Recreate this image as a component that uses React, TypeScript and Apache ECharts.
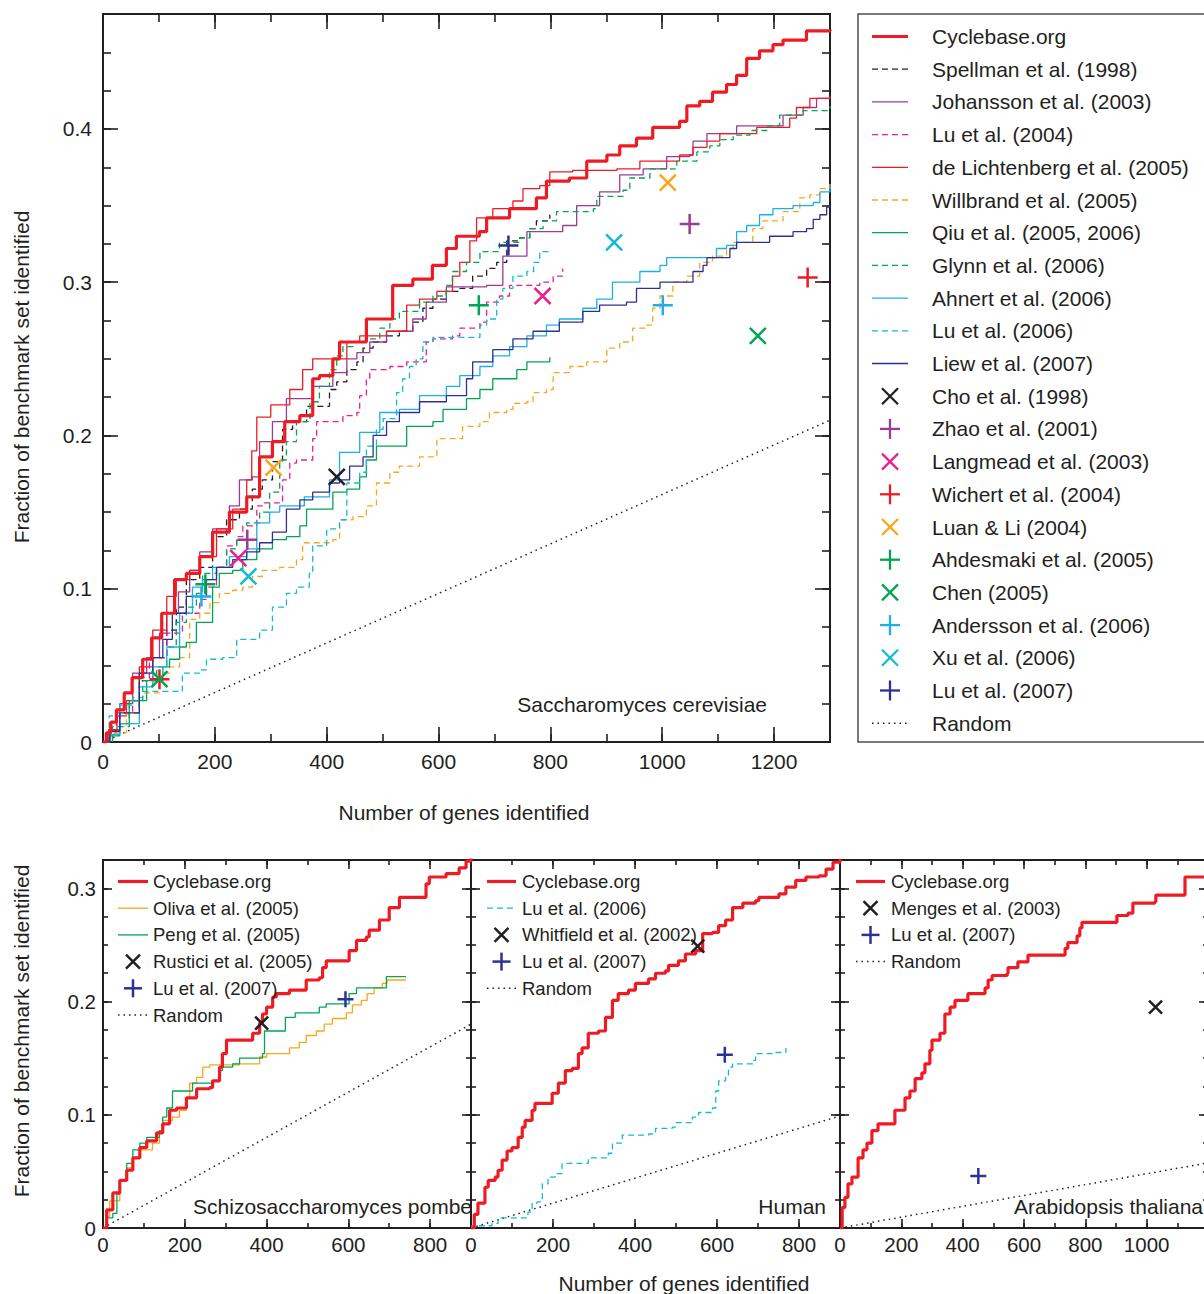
import React, { useEffect, useRef } from "react";
import * as echarts from "echarts";

const FONT = "'Liberation Sans', Arial, Helvetica, sans-serif";
const INK = "#231f20";
const C = {
  red: "#ed1c24",
  black: "#231f20",
  purple: "#9a3b96",
  pink: "#ec1e8c",
  orange: "#f9a61c",
  green: "#00a651",
  sky: "#1cb0ea",
  cyan: "#14b9d3",
  navy: "#2e3192",
};

// ===== Saccharomyces cerevisiae (top panel) =====
const scCyclebase = [[0,0],[6,0.006],[14,0.013],[24,0.021],[38,0.032],[52,0.042],[71,0.054],[87,0.068],[105,0.084],[128,0.106],[149,0.110],[173,0.121],[196,0.137],[226,0.150],[257,0.160],[280,0.186],[303,0.196],[325,0.209],[352,0.213],[375,0.237],[387,0.239],[411,0.250],[423,0.261],[471,0.276],[518,0.298],[554,0.302],[589,0.311],[614,0.322],[632,0.330],[673,0.333],[686,0.342],[727,0.348],[775,0.355],[793,0.366],[834,0.368],[865,0.379],[901,0.383],[924,0.389],[954,0.394],[983,0.401],[1031,0.405],[1044,0.415],[1067,0.418],[1090,0.424],[1115,0.429],[1133,0.435],[1151,0.446],[1174,0.451],[1198,0.455],[1216,0.458],[1258,0.464],[1300,0.465]];
const scSpellman = [[0,0],[12,0.007],[30,0.019],[65,0.040],[89,0.055],[114,0.073],[131,0.088],[149,0.106],[173,0.114],[196,0.134],[221,0.145],[244,0.152],[267,0.165],[285,0.171],[303,0.183],[321,0.204],[339,0.209],[364,0.219],[405,0.230],[418,0.235],[436,0.243],[454,0.248],[465,0.257],[483,0.261],[507,0.265],[530,0.268],[554,0.274],[572,0.283],[590,0.289],[614,0.294],[638,0.296],[661,0.304],[686,0.309],[704,0.313],[722,0.327],[745,0.329],[763,0.335],[775,0.340],[799,0.344]];
const scJohansson = [[0,0],[12,0.008],[30,0.025],[53,0.045],[78,0.055],[101,0.071],[114,0.084],[135,0.098],[155,0.112],[173,0.124],[196,0.139],[226,0.154],[244,0.171],[267,0.173],[280,0.196],[303,0.209],[328,0.224],[375,0.232],[411,0.241],[436,0.250],[454,0.254],[477,0.261],[507,0.268],[536,0.268],[554,0.276],[578,0.287],[614,0.297],[686,0.298],[715,0.317],[758,0.333],[822,0.337],[847,0.350],[876,0.350],[888,0.359],[924,0.370],[966,0.374],[1008,0.382],[1049,0.383],[1055,0.392],[1080,0.397],[1133,0.402],[1187,0.402],[1216,0.409],[1252,0.414],[1276,0.420],[1300,0.421]];
const scLu2004 = [[0,0],[10,0.006],[24,0.019],[53,0.042],[83,0.055],[114,0.071],[142,0.084],[173,0.093],[185,0.101],[203,0.114],[221,0.128],[239,0.134],[250,0.141],[275,0.154],[285,0.156],[321,0.171],[334,0.182],[346,0.184],[375,0.198],[382,0.209],[411,0.209],[429,0.213],[454,0.215],[459,0.226],[471,0.237],[477,0.243],[513,0.245],[543,0.248],[578,0.261],[590,0.263],[625,0.265],[638,0.270],[674,0.274],[686,0.287],[709,0.291],[727,0.298],[781,0.300],[805,0.304],[822,0.309]];
const scDeLichtenberg = [[0,0],[10,0.008],[25,0.017],[42,0.027],[65,0.049],[89,0.073],[114,0.095],[131,0.106],[155,0.112],[173,0.121],[203,0.139],[232,0.152],[257,0.171],[266,0.190],[275,0.212],[300,0.220],[334,0.230],[357,0.243],[375,0.250],[436,0.261],[459,0.265],[507,0.268],[543,0.285],[566,0.289],[597,0.294],[625,0.304],[638,0.313],[656,0.327],[668,0.342],[697,0.348],[733,0.353],[751,0.361],[781,0.363],[799,0.372],[840,0.373],[919,0.374],[960,0.379],[1031,0.383],[1055,0.388],[1080,0.392],[1103,0.397],[1169,0.401],[1228,0.407],[1240,0.414],[1264,0.420],[1300,0.421]];
const scWillbrand = [[0,0],[17,0.006],[42,0.019],[65,0.032],[101,0.045],[119,0.049],[137,0.055],[155,0.080],[173,0.084],[191,0.091],[208,0.097],[232,0.099],[250,0.101],[267,0.108],[285,0.112],[316,0.114],[346,0.119],[357,0.130],[411,0.132],[423,0.145],[447,0.147],[471,0.154],[489,0.169],[513,0.176],[530,0.180],[566,0.186],[597,0.198],[643,0.206],[674,0.209],[691,0.215],[722,0.217],[733,0.221],[758,0.222],[769,0.228],[793,0.230],[805,0.241],[835,0.245],[865,0.248],[901,0.257],[924,0.261],[947,0.270],[972,0.272],[983,0.283],[996,0.291],[1019,0.300],[1044,0.304],[1067,0.313],[1090,0.317],[1115,0.322],[1127,0.326],[1151,0.326],[1162,0.335],[1180,0.340],[1216,0.346],[1246,0.355],[1264,0.357],[1282,0.361],[1300,0.364]];
const scQiu = [[0,0],[12,0.004],[30,0.012],[47,0.027],[78,0.040],[107,0.049],[119,0.054],[137,0.062],[149,0.065],[167,0.078],[185,0.078],[196,0.101],[208,0.110],[232,0.112],[250,0.119],[275,0.126],[303,0.132],[328,0.134],[352,0.141],[364,0.152],[411,0.163],[436,0.165],[459,0.173],[471,0.184],[489,0.193],[536,0.193],[543,0.206],[590,0.209],[608,0.217],[650,0.224],[674,0.230],[697,0.237],[740,0.243],[758,0.248],[799,0.251]];
const scGlynn = [[0,0],[17,0.010],[47,0.027],[71,0.040],[96,0.049],[114,0.062],[131,0.078],[149,0.088],[167,0.097],[178,0.110],[203,0.114],[221,0.126],[239,0.132],[257,0.143],[280,0.150],[298,0.163],[316,0.184],[328,0.196],[346,0.209],[370,0.222],[387,0.232],[405,0.243],[418,0.252],[429,0.258],[447,0.261],[471,0.263],[495,0.270],[513,0.276],[530,0.281],[566,0.287],[590,0.291],[614,0.298],[625,0.307],[650,0.313],[674,0.320],[692,0.320],[709,0.326],[745,0.329],[763,0.335],[787,0.340],[811,0.346],[877,0.348],[883,0.356],[930,0.360],[942,0.368],[978,0.374],[1026,0.379],[1055,0.379],[1062,0.385],[1085,0.389],[1103,0.393],[1127,0.396],[1157,0.399],[1187,0.402],[1210,0.409],[1252,0.412],[1300,0.415]];
const scAhnert = [[0,0],[12,0.005],[30,0.012],[65,0.036],[89,0.049],[114,0.062],[137,0.084],[160,0.101],[178,0.106],[196,0.114],[226,0.121],[257,0.126],[275,0.143],[298,0.150],[316,0.154],[360,0.160],[405,0.171],[423,0.189],[459,0.202],[495,0.215],[530,0.217],[566,0.226],[614,0.232],[638,0.239],[674,0.245],[697,0.252],[727,0.258],[758,0.265],[793,0.272],[816,0.276],[858,0.283],[883,0.289],[911,0.300],[960,0.307],[996,0.311],[1008,0.316],[1073,0.316],[1097,0.322],[1115,0.324],[1133,0.333],[1151,0.337],[1174,0.344],[1198,0.348],[1234,0.350],[1270,0.352],[1282,0.359],[1300,0.363]];
const scLu2006 = [[0,0],[11,0.017],[30,0.024],[53,0.029],[71,0.033],[137,0.033],[142,0.045],[173,0.047],[185,0.054],[214,0.055],[239,0.067],[280,0.073],[303,0.088],[328,0.097],[346,0.101],[369,0.110],[375,0.128],[400,0.139],[423,0.145],[436,0.169],[459,0.176],[471,0.193],[489,0.204],[501,0.211],[525,0.228],[536,0.237],[548,0.245],[560,0.250],[572,0.261],[590,0.264],[674,0.272],[686,0.276],[704,0.289],[715,0.296],[733,0.304],[758,0.307],[770,0.313],[781,0.320],[796,0.322]];
const scLiew = [[0,0],[12,0.007],[30,0.019],[65,0.045],[89,0.055],[107,0.067],[124,0.084],[149,0.095],[173,0.095],[185,0.106],[203,0.114],[232,0.119],[257,0.124],[280,0.130],[303,0.137],[328,0.152],[352,0.158],[375,0.163],[405,0.169],[423,0.171],[441,0.180],[465,0.186],[483,0.200],[507,0.209],[530,0.215],[566,0.222],[614,0.226],[650,0.237],[661,0.248],[697,0.256],[733,0.263],[769,0.268],[816,0.274],[858,0.281],[888,0.285],[936,0.287],[954,0.296],[996,0.300],[1044,0.300],[1055,0.307],[1073,0.311],[1080,0.316],[1097,0.316],[1121,0.322],[1133,0.326],[1180,0.326],[1192,0.330],[1234,0.333],[1258,0.335],[1270,0.341],[1282,0.344],[1294,0.349],[1300,0.350]];
const scCho = [[418, 0.173]];
const scZhao = [[258, 0.132], [1049, 0.338]];
const scLangmead = [[242, 0.120], [786, 0.291]];
const scWichert = [[101, 0.041], [1260, 0.303]];
const scLuanLi = [[305, 0.179], [1010, 0.365]];
const scAhdesmaki = [[183, 0.103], [672, 0.285]];
const scChen = [[101, 0.041], [1171, 0.265]];
const scAndersson = [[176, 0.095], [1001, 0.285]];
const scXu = [[260, 0.108], [914, 0.326]];
const scLu2007 = [[725, 0.324]];
const scRandom = [[0, 0], [1300, 0.21]];

// ===== Schizosaccharomyces pombe =====
const spCyclebase = [[0,0],[9,0.016],[24,0.031],[41,0.042],[58,0.051],[73,0.062],[90,0.071],[107,0.077],[131,0.084],[146,0.092],[163,0.104],[180,0.106],[204,0.115],[229,0.123],[261,0.124],[268,0.130],[285,0.142],[292,0.154],[302,0.166],[334,0.166],[366,0.172],[383,0.181],[390,0.189],[400,0.195],[415,0.204],[424,0.207],[456,0.210],[497,0.219],[529,0.221],[537,0.230],[546,0.236],[585,0.236],[602,0.245],[620,0.254],[644,0.257],[651,0.263],[676,0.272],[700,0.283],[725,0.292],[781,0.292],[790,0.304],[798,0.310],[839,0.313],[871,0.318],[888,0.324],[900,0.327]];
const spOliva = [[0,0],[8,0.010],[16,0.024],[41,0.042],[58,0.053],[73,0.062],[90,0.069],[121,0.075],[138,0.086],[146,0.095],[170,0.098],[187,0.104],[204,0.115],[212,0.128],[229,0.133],[244,0.142],[261,0.144],[334,0.145],[383,0.151],[400,0.154],[439,0.154],[456,0.159],[480,0.164],[497,0.170],[522,0.174],[541,0.180],[561,0.185],[595,0.190],[610,0.197],[632,0.201],[646,0.207],[663,0.212],[683,0.216],[695,0.219],[741,0.219]];
const spPeng = [[0,0],[9,0.009],[24,0.013],[34,0.030],[41,0.042],[58,0.057],[73,0.069],[90,0.075],[107,0.080],[138,0.086],[146,0.098],[156,0.106],[170,0.121],[212,0.121],[219,0.128],[268,0.130],[285,0.139],[292,0.142],[317,0.145],[334,0.150],[390,0.154],[395,0.174],[439,0.174],[446,0.186],[470,0.190],[529,0.195],[546,0.198],[595,0.198],[602,0.207],[620,0.212],[683,0.212],[693,0.222],[741,0.222]];
const spRustici = [[388, 0.181]];
const spLu2007 = [[593, 0.202]];
const spRandom = [[0, 0], [900, 0.18]];

// ===== Human =====
const hsCyclebase = [[0,0],[8,0.012],[17,0.022],[34,0.036],[42,0.042],[59,0.045],[66,0.051],[76,0.060],[88,0.068],[100,0.071],[115,0.080],[125,0.089],[132,0.095],[149,0.104],[156,0.110],[181,0.110],[198,0.119],[213,0.128],[230,0.139],[247,0.141],[262,0.154],[271,0.159],[286,0.172],[311,0.174],[328,0.186],[345,0.201],[359,0.207],[384,0.210],[401,0.216],[433,0.220],[450,0.225],[474,0.227],[482,0.232],[506,0.236],[523,0.242],[548,0.245],[565,0.260],[589,0.261],[604,0.267],[621,0.272],[638,0.283],[663,0.287],[694,0.289],[702,0.292],[751,0.295],[768,0.301],[792,0.307],[817,0.310],[849,0.311],[866,0.317],[883,0.323],[900,0.326]];
const hsLu2006 = [[0,0],[2,0.002],[51,0.004],[66,0.009],[139,0.014],[149,0.022],[161,0.023],[174,0.039],[188,0.045],[205,0.048],[222,0.057],[279,0.057],[286,0.062],[335,0.066],[345,0.075],[369,0.082],[433,0.083],[450,0.088],[491,0.089],[499,0.093],[540,0.098],[555,0.102],[589,0.106],[597,0.121],[604,0.130],[621,0.133],[628,0.142],[638,0.145],[687,0.148],[694,0.154],[736,0.155],[768,0.159]];
const hsWhitfield = [[553, 0.249]];
const hsLu2007 = [[619, 0.153]];
const hsRandom = [[0, 0], [900, 0.099]];

// ===== Arabidopsis thaliana =====
const atCyclebase = [[0,0],[7,0.018],[16,0.027],[26,0.039],[39,0.045],[59,0.062],[75,0.069],[88,0.075],[104,0.086],[124,0.092],[173,0.092],[179,0.104],[202,0.104],[212,0.115],[228,0.121],[245,0.132],[267,0.137],[277,0.145],[293,0.157],[300,0.166],[326,0.172],[342,0.189],[359,0.195],[375,0.201],[417,0.207],[473,0.212],[483,0.219],[496,0.223],[545,0.225],[548,0.230],[580,0.235],[613,0.241],[724,0.241],[734,0.247],[743,0.252],[773,0.258],[782,0.265],[789,0.270],[897,0.270],[903,0.276],[939,0.278],[955,0.287],[1027,0.288],[1030,0.294],[1118,0.294],[1125,0.310],[1200,0.310]];
const atMenges = [[1029, 0.195]];
const atLu2007 = [[451, 0.046]];
const atRandom = [[0, 0], [1200, 0.0575]];

// tick label values
const xTickLabels = [0, 200, 400, 600, 800, 1000, 1200];
const yTickLabels = [0, 0.1, 0.2, 0.3, 0.4];

const DASH = [6, 4];
const DOT = [1.5, 4];
const PLUS = "path://M5,0L5,10M0,5L10,5";
const CROSS = "path://M0,0L10,10M10,0L0,10";

type Def = { name: string; data: number[][]; color: string; kind: "line" | "plus" | "cross" | "dot"; width?: number; dash?: number[] };

const THICK = 3.2;
const THIN = 1.3;

const scDefs: Def[] = [
  { name: "Cyclebase.org", data: scCyclebase, color: C.red, kind: "line", width: THICK },
  { name: "Spellman et al. (1998)", data: scSpellman, color: C.black, kind: "line", width: THIN, dash: DASH },
  { name: "Johansson et al. (2003)", data: scJohansson, color: C.purple, kind: "line", width: THIN },
  { name: "Lu et al. (2004)", data: scLu2004, color: C.pink, kind: "line", width: THIN, dash: DASH },
  { name: "de Lichtenberg et al. (2005)", data: scDeLichtenberg, color: C.red, kind: "line", width: THIN },
  { name: "Willbrand et al. (2005)", data: scWillbrand, color: C.orange, kind: "line", width: THIN, dash: DASH },
  { name: "Qiu et al. (2005, 2006)", data: scQiu, color: C.green, kind: "line", width: THIN },
  { name: "Glynn et al. (2006)", data: scGlynn, color: C.green, kind: "line", width: THIN, dash: DASH },
  { name: "Ahnert et al. (2006)", data: scAhnert, color: C.sky, kind: "line", width: THIN },
  { name: "Lu et al. (2006)", data: scLu2006, color: C.cyan, kind: "line", width: THIN, dash: DASH },
  { name: "Liew et al. (2007)", data: scLiew, color: C.navy, kind: "line", width: THIN },
  { name: "Cho et al. (1998)", data: scCho, color: C.black, kind: "cross" },
  { name: "Zhao et al. (2001)", data: scZhao, color: C.purple, kind: "plus" },
  { name: "Langmead et al. (2003)", data: scLangmead, color: C.pink, kind: "cross" },
  { name: "Wichert et al. (2004)", data: scWichert, color: C.red, kind: "plus" },
  { name: "Luan & Li (2004)", data: scLuanLi, color: C.orange, kind: "cross" },
  { name: "Ahdesmaki et al. (2005)", data: scAhdesmaki, color: C.green, kind: "plus" },
  { name: "Chen (2005)", data: scChen, color: C.green, kind: "cross" },
  { name: "Andersson et al. (2006)", data: scAndersson, color: C.sky, kind: "plus" },
  { name: "Xu et al. (2006)", data: scXu, color: C.cyan, kind: "cross" },
  { name: "Lu et al. (2007)", data: scLu2007, color: C.navy, kind: "plus" },
  { name: "Random", data: scRandom, color: C.black, kind: "dot", width: 1.5, dash: DOT },
];

const spDefs: Def[] = [
  { name: "Cyclebase.org", data: spCyclebase, color: C.red, kind: "line", width: THICK },
  { name: "Oliva et al. (2005)", data: spOliva, color: C.orange, kind: "line", width: THIN },
  { name: "Peng et al. (2005)", data: spPeng, color: C.green, kind: "line", width: THIN },
  { name: "Rustici et al. (2005)", data: spRustici, color: C.black, kind: "cross" },
  { name: "Lu et al. (2007)", data: spLu2007, color: C.navy, kind: "plus" },
  { name: "Random", data: spRandom, color: C.black, kind: "dot", width: 1.5, dash: DOT },
];

const hsDefs: Def[] = [
  { name: "Cyclebase.org", data: hsCyclebase, color: C.red, kind: "line", width: THICK },
  { name: "Lu et al. (2006)", data: hsLu2006, color: C.cyan, kind: "line", width: THIN, dash: DASH },
  { name: "Whitfield et al. (2002)", data: hsWhitfield, color: C.black, kind: "cross" },
  { name: "Lu et al. (2007)", data: hsLu2007, color: C.navy, kind: "plus" },
  { name: "Random", data: hsRandom, color: C.black, kind: "dot", width: 1.5, dash: DOT },
];

const atDefs: Def[] = [
  { name: "Cyclebase.org", data: atCyclebase, color: C.red, kind: "line", width: THICK },
  { name: "Menges et al. (2003)", data: atMenges, color: C.black, kind: "cross" },
  { name: "Lu et al. (2007)", data: atLu2007, color: C.navy, kind: "plus" },
  { name: "Random", data: atRandom, color: C.black, kind: "dot", width: 1.5, dash: DOT },
];

type Panel = {
  grid: { left: number; top: number; width: number; height: number };
  xMax: number; yMax: number; xLabelMax: number; yLabels: boolean;
  major: number; minor: number; tickFont: number; xMargin: number; yMargin: number;
  plusSize: number; crossSize: number; markW: number;
  defs: Def[];
  legend: { x0: number; x1: number; tx: number; y0: number; pitch: number; font: number; plusH: number; crossH: number; lw: number };
  label: { text: string; x: number; y: number };
};

const panels: Panel[] = [
  {
    grid: { left: 103, top: 14, width: 727, height: 728 }, xMax: 1300, yMax: 0.475, xLabelMax: 1200, yLabels: true,
    major: 15, minor: 8, tickFont: 21, xMargin: 9, yMargin: 11, plusSize: 20, crossSize: 16, markW: 2.5,
    defs: scDefs,
    legend: { x0: 872, x1: 908, tx: 932, y0: 36.5, pitch: 32.7, font: 21, plusH: 10, crossH: 8, lw: 2.3 },
    label: { text: "Saccharomyces cerevisiae", x: 767, y: 704 },
  },
  {
    grid: { left: 103, top: 860, width: 368, height: 368 }, xMax: 900, yMax: 0.325, xLabelMax: 800, yLabels: true,
    major: 9, minor: 5, tickFont: 20.5, xMargin: 6, yMargin: 7, plusSize: 16, crossSize: 13, markW: 2.5,
    defs: spDefs,
    legend: { x0: 118, x1: 148, tx: 153, y0: 881.5, pitch: 26.7, font: 18.5, plusH: 9, crossH: 7, lw: 2.5 },
    label: { text: "Schizosaccharomyces pombe", x: 472, y: 1206 },
  },
  {
    grid: { left: 471, top: 860, width: 369, height: 368 }, xMax: 900, yMax: 0.325, xLabelMax: 800, yLabels: false,
    major: 9, minor: 5, tickFont: 20.5, xMargin: 6, yMargin: 7, plusSize: 16, crossSize: 13, markW: 2.5,
    defs: hsDefs,
    legend: { x0: 487, x1: 516, tx: 522, y0: 881.5, pitch: 26.7, font: 18.5, plusH: 9, crossH: 7, lw: 2.5 },
    label: { text: "Human", x: 826, y: 1206 },
  },
  {
    grid: { left: 840, top: 860, width: 368, height: 368 }, xMax: 1200, yMax: 0.325, xLabelMax: 1000, yLabels: false,
    major: 9, minor: 5, tickFont: 20.5, xMargin: 6, yMargin: 7, plusSize: 16, crossSize: 13, markW: 2.5,
    defs: atDefs,
    legend: { x0: 856, x1: 885, tx: 891, y0: 881.5, pitch: 26.7, font: 18.5, plusH: 9, crossH: 7, lw: 2.5 },
    label: { text: "Arabidopsis thaliana", x: 1203, y: 1206 },
  },
];

function near(v: number, list: number[]) {
  return list.some((t) => Math.abs(t - v) < 1e-6);
}

function buildOption() {
  const grids: any[] = [];
  const xAxes: any[] = [];
  const yAxes: any[] = [];
  const series: any[] = [];
  const graphic: any[] = [];

  panels.forEach((p, g) => {
    grids.push({ ...p.grid, containLabel: false, outerBoundsMode: "none", show: false });
    const mkX = (pos: string, interval: number, len: number, label: boolean) => ({
      type: "value", gridIndex: g, position: pos, min: 0, max: p.xMax, interval, offset: 0,
      axisLine: { show: true, onZero: false, lineStyle: { color: INK, width: 2 } },
      axisTick: { show: true, inside: true, length: len, lineStyle: { color: INK, width: 1.6 } },
      axisLabel: label
        ? {
            show: true, margin: p.xMargin, color: INK, fontSize: p.tickFont, fontFamily: FONT,
            formatter: (v: number) => (near(v, xTickLabels) && v <= p.xLabelMax ? String(Math.round(v)) : ""),
          }
        : { show: false },
      splitLine: { show: false },
    });
    const mkY = (pos: string, interval: number, len: number, label: boolean) => ({
      type: "value", gridIndex: g, position: pos, min: 0, max: p.yMax, interval, offset: 0,
      axisLine: { show: true, onZero: false, lineStyle: { color: INK, width: 2 } },
      axisTick: { show: true, inside: true, length: len, lineStyle: { color: INK, width: 1.6 } },
      axisLabel: label
        ? {
            show: true, margin: p.yMargin, color: INK, fontSize: p.tickFont, fontFamily: FONT,
            formatter: (v: number) => (near(v, yTickLabels) ? (Math.abs(v) < 1e-9 ? "0" : v.toFixed(1)) : ""),
          }
        : { show: false },
      splitLine: { show: false },
    });
    xAxes.push(mkX("bottom", 200, p.major, true), mkX("bottom", 100, p.minor, false), mkX("top", 200, p.major, false), mkX("top", 100, p.minor, false));
    yAxes.push(mkY("left", 0.1, p.major, p.yLabels), mkY("left", 0.025, p.minor, false), mkY("right", 0.1, p.major, false), mkY("right", 0.025, p.minor, false));

    p.defs.forEach((d) => {
      if (d.kind === "line" || d.kind === "dot") {
        series.push({
          type: "line", name: d.name, data: d.data, xAxisIndex: 4 * g, yAxisIndex: 4 * g,
          step: d.kind === "line" ? "end" : false, symbol: "none", showSymbol: false, silent: true,
          lineStyle: { color: d.color, width: d.width, type: d.dash ?? "solid" },
          z: d.name === "Cyclebase.org" ? 4 : d.kind === "dot" ? 2 : 3, clip: true,
        });
      } else {
        series.push({
          type: "scatter", name: d.name, data: d.data, xAxisIndex: 4 * g, yAxisIndex: 4 * g,
          symbol: d.kind === "plus" ? PLUS : CROSS, symbolSize: d.kind === "plus" ? p.plusSize : p.crossSize, silent: true,
          itemStyle: { color: "rgba(0,0,0,0)", borderColor: d.color, borderWidth: p.markW, opacity: 1 }, z: 6,
        });
      }
    });

    // legend
    const L = p.legend;
    const cx = (L.x0 + L.x1) / 2;
    p.defs.forEach((d, i) => {
      const y = L.y0 + i * L.pitch;
      const ln = (x1: number, y1: number, x2: number, y2: number, w: number, dash?: number[]) => ({
        type: "line", silent: true, z: 100, shape: { x1, y1, x2, y2 },
        style: dash ? { stroke: d.color, lineWidth: w, lineDash: dash } : { stroke: d.color, lineWidth: w },
      });
      if (d.kind === "line" || d.kind === "dot") {
        graphic.push(ln(L.x0, y, L.x1, y, d.width as number, d.dash));
      } else if (d.kind === "plus") {
        graphic.push(ln(cx - L.plusH, y, cx + L.plusH, y, L.lw), ln(cx, y - L.plusH, cx, y + L.plusH, L.lw));
      } else {
        graphic.push(ln(cx - L.crossH, y - L.crossH, cx + L.crossH, y + L.crossH, L.lw), ln(cx + L.crossH, y - L.crossH, cx - L.crossH, y + L.crossH, L.lw));
      }
      graphic.push({
        type: "text", silent: true, z: 100, x: L.tx, y,
        style: { text: d.name, fill: INK, fontSize: L.font, fontFamily: FONT, align: "left", verticalAlign: "middle", textAlign: "left", textVerticalAlign: "middle" },
      });
    });

    graphic.push({
      type: "text", silent: true, z: 100, x: p.label.x, y: p.label.y,
      style: { text: p.label.text, fill: INK, fontSize: 21, fontFamily: FONT, align: "right", verticalAlign: "middle", textAlign: "right", textVerticalAlign: "middle" },
    });
  });

  // legend frame of the top panel
  graphic.push({
    type: "rect", silent: true, z: 99, shape: { x: 858, y: 14, width: 360, height: 728 },
    style: { fill: "none", stroke: "#4d4d4d", lineWidth: 1.5 },
  });

  // axis titles
  const title = (text: string, x: number, y: number, rot: number) => ({
    type: "text", silent: true, z: 100, x, y, rotation: rot,
    style: { text, fill: INK, fontSize: 21, fontFamily: FONT, align: "center", verticalAlign: "middle", textAlign: "center", textVerticalAlign: "middle" },
  });
  graphic.push(title("Number of genes identified", 464, 812, 0));
  graphic.push(title("Number of genes identified", 684, 1283, 0));
  graphic.push(title("Fraction of benchmark set identified", 21, 377, Math.PI / 2));
  graphic.push(title("Fraction of benchmark set identified", 21, 1031, Math.PI / 2));

  return {
    animation: false,
    backgroundColor: "#ffffff",
    textStyle: { fontFamily: FONT },
    grid: grids,
    xAxis: xAxes,
    yAxis: yAxes,
    series,
    graphic: { elements: graphic },
  };
}

export default function App() {
  const ref = useRef<HTMLDivElement>(null);
  useEffect(() => {
    if (!ref.current) return;
    const chart = echarts.init(ref.current, undefined, { renderer: "svg" });
    chart.setOption(buildOption() as any);
    return () => chart.dispose();
  }, []);
  return (
    <div
      ref={ref}
      style={{ position: "absolute", left: 0, top: 0, width: 1204, height: 1294, background: "#fff" }}
    />
  );
}
